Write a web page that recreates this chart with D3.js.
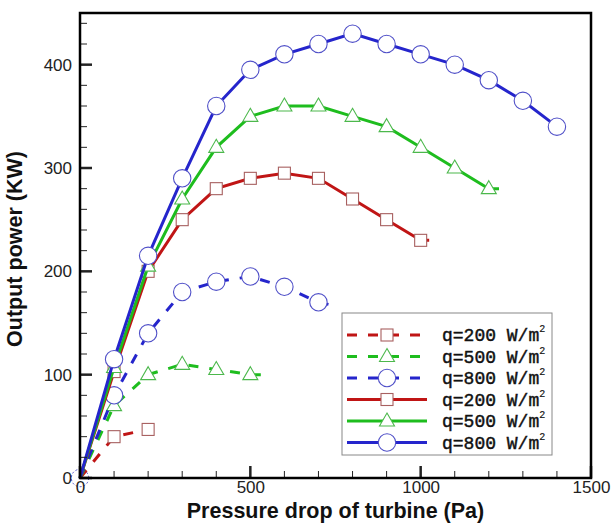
<!DOCTYPE html>
<html>
<head>
<meta charset="utf-8">
<script src="https://cdn.jsdelivr.net/npm/d3@7"></script>
<style>
  body { margin: 0; background: #fff; }
  .tick text { font-family: "Liberation Sans", Arial, sans-serif; font-size: 17px; fill: #222; }
  .title { font-family: "Liberation Sans", Arial, sans-serif; font-size: 21.5px; font-weight: bold; fill: #111; }
  .leg { font-family: "Liberation Mono", "Courier New", monospace; font-size: 18px; fill: #111; stroke: #111; stroke-width: 0.45px; }
</style>
</head>
<body>
<div id="main"></div>
<script>
// data: pressure drop (Pa) vs output power (KW)
var xRed1 = [0, 100, 200, 235];
var yRed1 = [0, 40, 47, 48];
var xGreen1 = [0, 100, 200, 300, 400, 500, 540];
var yGreen1 = [0, 70, 100, 110, 105, 100, 100];
var xBlue1 = [0, 100, 200, 300, 400, 500, 600, 700, 730];
var yBlue1 = [0, 80, 140, 180, 190, 195, 185, 170, 168];
var xRed2 = [0, 100, 200, 300, 400, 500, 600, 700, 800, 900, 1000, 1025];
var yRed2 = [0, 103, 200, 250, 280, 290, 295, 290, 270, 250, 230, 230];
var xGreen2 = [0, 100, 200, 300, 400, 500, 600, 700, 800, 900, 1000, 1100, 1200, 1230];
var yGreen2 = [0, 107, 205, 270, 320, 350, 360, 360, 350, 340, 320, 300, 280, 280];
var xBlue2 = [0, 100, 200, 300, 400, 500, 600, 700, 800, 900, 1000, 1100, 1200, 1300, 1400];
var yBlue2 = [0, 115, 215, 290, 360, 395, 410, 420, 430, 420, 410, 400, 385, 365, 340];

var legendLabels = ["q=200", "q=500", "q=800", "q=200", "q=500", "q=800"];
var xTickLabels = [0, 500, 1000, 1500];
var yTickLabels = [0, 100, 200, 300, 400];

var width = 611, height = 523;
var margin = {left: 80, right: 20, top: 13, bottom: 45};

var colors = {red: "#c01515", green: "#1ebd1e", blue: "#2525cc"};
var edge = {red: "#a86060", green: "#4cb84c", blue: "#5050c8"};

var series = [
  {x: xRed1, y: yRed1, c: "red", m: "square", dash: true},
  {x: xGreen1, y: yGreen1, c: "green", m: "triangle", dash: true},
  {x: xBlue1, y: yBlue1, c: "blue", m: "circle", dash: true},
  {x: xRed2, y: yRed2, c: "red", m: "square", dash: false},
  {x: xGreen2, y: yGreen2, c: "green", m: "triangle", dash: false},
  {x: xBlue2, y: yBlue2, c: "blue", m: "circle", dash: false}
];

var svg = d3.select("#main").append("svg")
  .attr("width", width)
  .attr("height", height);

var x = d3.scaleLinear().domain([0, 1500]).range([margin.left, width - margin.right]);
var y = d3.scaleLinear().domain([0, 450]).range([height - margin.bottom, margin.top]);

function drawMarker(g, kind, c, px, py) {
  if (kind == "square") {
    g.append("rect").attr("x", px - 6).attr("y", py - 6).attr("width", 12).attr("height", 12)
      .attr("fill", "#fff").attr("stroke", edge[c]).attr("stroke-width", 1.1);
  } else if (kind == "triangle") {
    g.append("path")
      .attr("d", "M" + px + "," + (py - 8) + "L" + (px + 7.5) + "," + (py + 5) + "L" + (px - 7.5) + "," + (py + 5) + "Z")
      .attr("fill", "#fff").attr("stroke", edge[c]).attr("stroke-width", 1.1);
  } else {
    g.append("circle").attr("cx", px).attr("cy", py).attr("r", 8.7)
      .attr("fill", "#fff").attr("stroke", edge[c]).attr("stroke-width", 1.1);
  }
}

var line = d3.line().x(function (d) { return x(d[0]); }).y(function (d) { return y(d[1]); });

// faint circle left at the origin
svg.append("circle").attr("cx", x(0)).attr("cy", y(0)).attr("r", 8.7)
  .attr("fill", "none").attr("stroke", edge.blue).attr("stroke-width", 1).attr("stroke-dasharray", "2,2");

var plot = svg.append("g");
series.forEach(function (s) {
  var pts = s.x.map(function (v, i) { return [v, s.y[i]]; });
  plot.append("path")
    .attr("d", line(pts))
    .attr("fill", "none")
    .attr("stroke", colors[s.c])
    .attr("stroke-width", 3)
    .attr("stroke-dasharray", s.dash ? "10,11" : null);
  pts.forEach(function (p) {
    if (p[0] > 0 && p[0] % 100 == 0) drawMarker(plot, s.m, s.c, x(p[0]), y(p[1]));
  });
});

// axes with inward ticks
var xMinor = d3.range(0, 1501, 100);
var yMinor = d3.range(0, 451, 20);
svg.append("g").selectAll("line").data(xMinor).enter().append("line")
  .attr("x1", function (d) { return x(d); }).attr("x2", function (d) { return x(d); })
  .attr("y1", y(0)).attr("y2", function (d) { return y(0) - (d % 500 == 0 ? 12 : 7); })
  .attr("stroke", "#222").attr("stroke-width", function (d) { return d % 500 == 0 ? 2.5 : 1; });
svg.append("g").selectAll("line").data(yMinor).enter().append("line")
  .attr("y1", function (d) { return y(d); }).attr("y2", function (d) { return y(d); })
  .attr("x1", x(0)).attr("x2", function (d) { return x(0) + (d % 100 == 0 ? 12 : 7); })
  .attr("stroke", "#222").attr("stroke-width", function (d) { return d % 100 == 0 ? 2.5 : 1; });

svg.append("g")
  .attr("transform", "translate(0," + y(0) + ")")
  .call(d3.axisBottom(x).tickValues(xTickLabels).tickFormat(d3.format("d")).tickSize(0).tickPadding(3))
  .call(function (g) { g.select(".domain").remove(); });
svg.append("g")
  .attr("transform", "translate(" + x(0) + ",0)")
  .call(d3.axisLeft(y).tickValues(yTickLabels).tickFormat(d3.format("d")).tickSize(0).tickPadding(8))
  .call(function (g) { g.select(".domain").remove(); });

svg.append("rect")
  .attr("x", x(0)).attr("y", y(450))
  .attr("width", x(1500) - x(0)).attr("height", y(0) - y(450))
  .attr("fill", "none").attr("stroke", "#000").attr("stroke-width", 2.5);

svg.append("text").attr("class", "title")
  .attr("x", (x(0) + x(1500)) / 2).attr("y", 518)
  .attr("text-anchor", "middle")
  .text("Pressure drop of turbine (Pa)");
svg.append("text").attr("class", "title")
  .attr("transform", "translate(22,249) rotate(-90)")
  .attr("text-anchor", "middle")
  .text("Output power (KW)");

// legend
var leg = svg.append("g");
leg.append("rect").attr("x", 342).attr("y", 313).attr("width", 210).attr("height", 142)
  .attr("fill", "#fff").attr("stroke", "#888").attr("stroke-width", 1);
series.forEach(function (s, i) {
  var ly = 335 + i * 21.5;
  leg.append("line").attr("x1", 347).attr("x2", 427).attr("y1", ly).attr("y2", ly)
    .attr("stroke", colors[s.c]).attr("stroke-width", 3)
    .attr("stroke-dasharray", s.dash ? "10,11" : null);
  drawMarker(leg, s.m, s.c, 387, ly);
  var t = leg.append("text").attr("class", "leg").attr("x", 442).attr("y", ly + 6);
  t.append("tspan").text(legendLabels[i] + " W/m");
  t.append("tspan").attr("dy", -9).attr("font-size", "10px").attr("stroke-width", 0.2).text("2");
});
</script>
</body>
</html>
